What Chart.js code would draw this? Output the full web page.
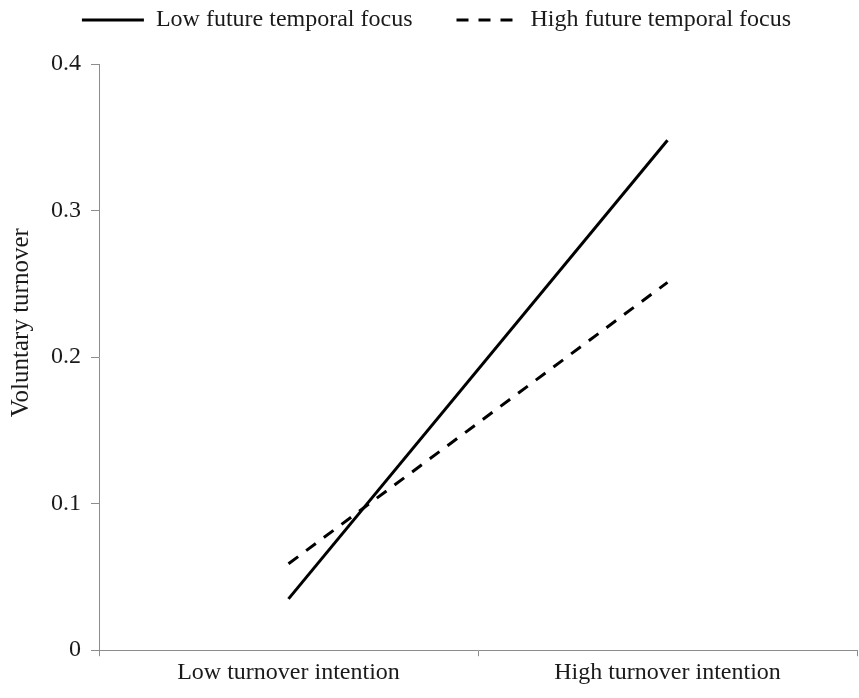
<!DOCTYPE html>
<html>
<head>
<meta charset="utf-8">
<script src="https://cdn.jsdelivr.net/npm/chart.js@4"></script>
<style>
  html, body { margin: 0; padding: 0; background: #ffffff; }
  #wrap { width: 859px; height: 698px; position: relative; }
</style>
</head>
<body>
<div id="wrap"><canvas id="c"></canvas></div>
<script>
const categories = ["Low turnover intention", "High turnover intention"];
const lowFocus = [0.035, 0.348];
const highFocus = [0.059, 0.251];
const seriesNames = ["Low future temporal focus", "High future temporal focus"];
const yTitle = "Voluntary turnover";

const FONT = "'Liberation Serif', 'Times New Roman', serif";
const TXT = "#1a1a1a";
const AXIS = "#8c8c8c";
const NBSP = "\u00a0";

// empty layout box that adds space between the legend and the plot
const spacerPlugin = {
  id: "spacer",
  beforeInit(chart) {
    const box = {
      position: "top",
      weight: 500,
      fullSize: true,
      options: {},
      isHorizontal() { return true; },
      update(maxWidth) { this.width = maxWidth; this.height = 22; },
      draw() {}
    };
    Chart.layouts.addBox(chart, box);
  }
};

new Chart(document.getElementById("c"), {
  type: "line",
  data: {
    labels: categories,
    datasets: [
      {
        label: seriesNames[0] + NBSP.repeat(6),
        data: lowFocus,
        borderColor: "#000000",
        backgroundColor: "#000000",
        borderWidth: 3,
        pointRadius: 0,
        tension: 0,
        fill: false,
        pointStyle: "line"
      },
      {
        label: seriesNames[1],
        data: highFocus,
        borderColor: "#000000",
        backgroundColor: "#000000",
        borderWidth: 3,
        borderDash: [12, 10],
        pointRadius: 0,
        tension: 0,
        fill: false,
        pointStyle: "line"
      }
    ]
  },
  plugins: [spacerPlugin],
  options: {
    responsive: true,
    maintainAspectRatio: false,
    animation: false,
    devicePixelRatio: 1,
    layout: { padding: { top: 0, right: 2, bottom: 9, left: 16 } },
    plugins: {
      tooltip: { enabled: false },
      legend: {
        display: true,
        position: "top",
        align: "center",
        labels: {
          usePointStyle: true,
          pointStyleWidth: 62,
          padding: 8,
          color: TXT,
          font: { family: FONT, size: 24 },
          generateLabels(chart) {
            const items = Chart.defaults.plugins.legend.labels.generateLabels(chart);
            items.forEach((it, i) => {
              const ds = chart.data.datasets[i];
              it.lineDash = ds.borderDash || [];
              it.lineWidth = ds.borderWidth;
              it.strokeStyle = ds.borderColor;
              it.fillStyle = ds.borderColor;
            });
            return items;
          }
        }
      }
    },
    scales: {
      x: {
        type: "category",
        offset: true,
        grid: {
          display: true,
          offset: true,
          drawOnChartArea: false,
          drawTicks: true,
          tickLength: 6,
          color: AXIS,
          lineWidth: 1
        },
        border: { display: true, color: AXIS, width: 1 },
        ticks: {
          color: TXT,
          padding: 2,
          font: { family: FONT, size: 24 },
          maxRotation: 0
        }
      },
      y: {
        type: "linear",
        min: 0,
        max: 0.4,
        grid: {
          display: true,
          drawOnChartArea: false,
          drawTicks: true,
          tickLength: 8,
          color: AXIS,
          lineWidth: 1
        },
        border: { display: true, color: AXIS, width: 1 },
        ticks: {
          stepSize: 0.1,
          color: TXT,
          padding: 10,
          font: { family: FONT, size: 24 }
        },
        title: {
          display: true,
          text: NBSP.repeat(11) + yTitle,
          color: TXT,
          padding: { top: -10, bottom: 5 },
          font: { family: FONT, size: 25 }
        }
      }
    }
  }
});
</script>
</body>
</html>
